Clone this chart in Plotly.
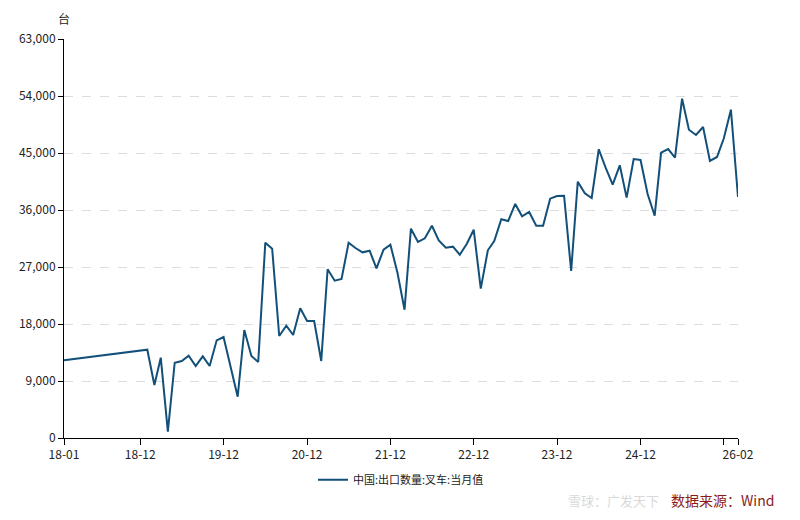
import plotly.graph_objects as go

months = ["2018-01",
          "2019-01", "2019-02", "2019-03", "2019-04", "2019-05", "2019-06",
          "2019-07", "2019-08", "2019-09", "2019-10", "2019-11", "2019-12",
          "2020-02", "2020-03", "2020-04", "2020-05", "2020-06", "2020-07",
          "2020-08", "2020-09", "2020-10", "2020-11", "2020-12",
          "2021-01", "2021-02", "2021-03", "2021-04", "2021-05", "2021-06",
          "2021-07", "2021-08", "2021-09", "2021-10", "2021-11", "2021-12",
          "2022-01", "2022-02", "2022-03", "2022-04", "2022-05", "2022-06",
          "2022-07", "2022-08", "2022-09", "2022-10", "2022-11", "2022-12",
          "2023-01", "2023-02", "2023-03", "2023-04", "2023-05", "2023-06",
          "2023-07", "2023-08", "2023-09", "2023-10", "2023-11", "2023-12",
          "2024-01", "2024-02", "2024-03", "2024-04", "2024-05", "2024-06",
          "2024-07", "2024-08", "2024-09", "2024-10", "2024-11", "2024-12",
          "2025-01", "2025-02", "2025-03", "2025-04", "2025-05", "2025-06",
          "2025-07", "2025-08", "2025-09", "2025-10", "2025-11", "2025-12",
          "2026-01", "2026-02"]

values = [12270,
          13940, 8370, 12680, 1000, 11890, 12160,
          13000, 11370, 12900, 11370, 15420, 15950,
          6520, 17050, 12950, 12000, 30840, 29900,
          16110, 17740, 16260, 20480, 18470,
          18470, 12160, 26630, 24840, 25100, 30840,
          30000, 29320, 29580, 26800, 29740, 30530,
          26100, 20260, 33050, 30950, 31530, 33520,
          31210, 30050, 30210, 28940, 30680, 32890,
          23580, 29640, 31110, 34530, 34260, 36950,
          35000, 35690, 33520, 33520, 37790, 38210,
          38260, 26370, 40470, 38630, 37900, 45590,
          42680, 40000, 43060, 37950, 44050, 43900,
          38530, 35100, 45050, 45630, 44260, 53580,
          48680, 47840, 49110, 43740, 44370, 47320,
          51840, 38050]

series_name = "中国:出口数量:叉车:当月值"
x_tick_vals = ["2018-01", "2018-12", "2019-12", "2020-12", "2021-12",
               "2022-12", "2023-12", "2024-12", "2025-12", "2026-02"]
x_tick_text = ["18-01", "18-12", "19-12", "20-12", "21-12",
               "22-12", "23-12", "24-12", "", "26-02"]
y_tick_vals = [0, 9000, 18000, 27000, 36000, 45000, 54000, 63000]
y_tick_text = ["0", "9,000", "18,000", "27,000", "36,000", "45,000", "54,000", "63,000"]

FONT = "Noto Sans CJK SC, Noto Sans, sans-serif"
LINE_COLOR = "#12507a"

fig = go.Figure()
fig.add_trace(go.Scatter(
    x=months, y=values, mode="lines", name=series_name,
    line=dict(color=LINE_COLOR, width=2),
    showlegend=True,
))

fig.update_layout(
    width=800, height=520,
    margin=dict(l=56, r=70, t=31, b=90, autoexpand=False),
    paper_bgcolor="white", plot_bgcolor="white",
    font=dict(family=FONT, size=11, color="#222222"),
    showlegend=True,
    legend=dict(orientation="h", x=0.5, xanchor="center", y=-0.068, yanchor="top",
                font=dict(size=11, color="#222222"), itemwidth=30),
    xaxis=dict(
        type="date", range=["2018-01-01", "2026-02-01"], automargin=False,
        tickmode="array", tickvals=x_tick_vals, ticktext=x_tick_text,
        showgrid=False, showline=True, linecolor="#000000", linewidth=1,
        ticks="outside", ticklen=6, tickcolor="#000000",
        tickfont=dict(size=12, color="#222222"), zeroline=False,
    ),
    yaxis=dict(
        range=[0, 63000], tickmode="array", tickvals=y_tick_vals, ticktext=y_tick_text,
        automargin=False,
        showgrid=True, gridcolor="#dcdcdc", griddash="dash", gridwidth=1,
        showline=True, linecolor="#000000", linewidth=1,
        ticks="outside", ticklen=5, tickcolor="#000000",
        tickfont=dict(size=12, color="#222222"), zeroline=False,
    ),
)

fig.add_annotation(text="台", xref="paper", yref="paper", x=0.0, y=1.0,
                   xanchor="center", yanchor="bottom", yshift=10, showarrow=False,
                   font=dict(size=12, color="#222222", family=FONT))
fig.add_annotation(text="雪球：广发天下", xref="paper", yref="paper", x=0.745, y=-0.128,
                   xanchor="left", yanchor="top", showarrow=False,
                   font=dict(size=13, color="rgba(190,190,190,0.6)", family=FONT))
fig.add_annotation(text="数据来源：Wind", xref="paper", yref="paper", x=1.0, y=-0.125,
                   xanchor="right", yanchor="top", xshift=38, showarrow=False,
                   font=dict(size=14, color="#8b1a1a", family=FONT))

fig.write_html("out.html")
